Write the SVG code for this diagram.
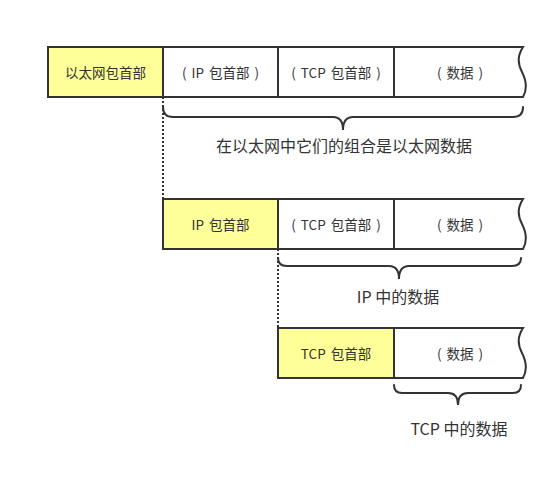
<svg xmlns="http://www.w3.org/2000/svg" width="560" height="503" viewBox="0 0 560 503">
<style>
.bg{fill:#ffffff}
.box{fill:#ffffff;stroke:#333333;stroke-width:2}
.hdr{fill:#ffff99;stroke:#333333;stroke-width:2}
.edge{fill:#ffffff;stroke:#333333;stroke-width:2}
.brace{fill:none;stroke:#333333;stroke-width:2;stroke-linecap:round}
.dot{fill:none;stroke:#333333;stroke-width:2;stroke-dasharray:2 2}
.t{font-family:"Noto Sans CJK SC","Liberation Sans",sans-serif;font-size:13.5px;fill:#333333;text-anchor:middle;dominant-baseline:central;word-spacing:2px}
.lbl{font-family:"Noto Sans CJK SC","Liberation Sans",sans-serif;font-size:16px;fill:#333333;text-anchor:middle;dominant-baseline:central}
</style>
<rect class="bg" x="0" y="0" width="560" height="503"/>
<g id="connectors">
<path class="dot" d="M163,97 V199"/>
<path class="dot" d="M278,249 V328"/>
<path class="brace" d="M163,107 Q163,117 173,117 H333 Q343,117 343,130 Q343,117 353,117 H513 Q523,117 523,107"/>
<path class="brace" d="M278,258 Q278,266 287,266 H389 Q399,266 399,279 Q399,266 409,266 H512 Q521,266 521,258"/>
<path class="brace" d="M394,385 Q394,393 402,393 H448 Q458,393 458,405 Q458,393 468,393 H513 Q521,393 521,385"/>
</g>
<g id="row1">
<path class="edge" d="M394,47 H523 C518,55 517,62 522,72 C527,82 527,90 523,97 H394 Z"/>
<rect class="box" x="278" y="47" width="116" height="50"/>
<rect class="box" x="163" y="47" width="115" height="50"/>
<rect class="hdr" x="48" y="47" width="115" height="50"/>
<text class="t" x="105.5" y="72">以太网包首部</text>
<text class="t" x="220.5" y="72">( IP 包首部 )</text>
<text class="t" x="336" y="72">( TCP 包首部 )</text>
<text class="t" x="460" y="72">( 数据 )</text>
</g>
<g id="label1">
<text class="lbl" x="344" y="145">在以太网中它们的组合是以太网数据</text>
</g>
<g id="row2">
<path class="edge" d="M394,199 H523 C518,207 517,214 522,224 C527,234 527,242 523,249 H394 Z"/>
<rect class="box" x="278" y="199" width="116" height="50"/>
<rect class="hdr" x="163" y="199" width="115" height="50"/>
<text class="t" x="220.5" y="224">IP 包首部</text>
<text class="t" x="336" y="224">( TCP 包首部 )</text>
<text class="t" x="460" y="224">( 数据 )</text>
</g>
<g id="label2">
<text class="lbl" x="398" y="296">IP 中的数据</text>
</g>
<g id="row3">
<path class="edge" d="M394,328 H523 C518,336 517,343 522,353 C527,363 527,371 523,378 H394 Z"/>
<rect class="hdr" x="278" y="328" width="116" height="50"/>
<text class="t" x="336" y="353">TCP 包首部</text>
<text class="t" x="460" y="353">( 数据 )</text>
</g>
<g id="label3">
<text class="lbl" x="459" y="428">TCP 中的数据</text>
</g>
</svg>
